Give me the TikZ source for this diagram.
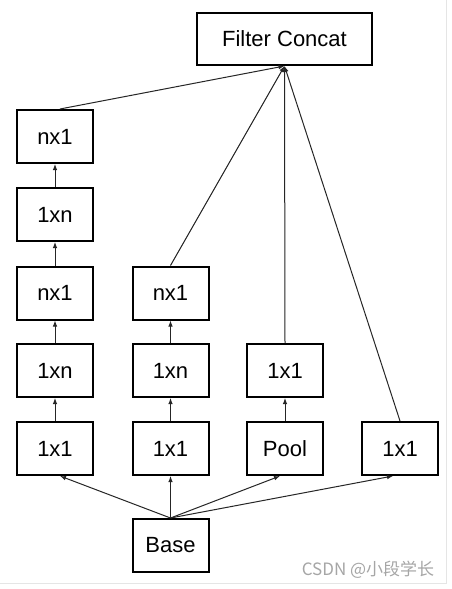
\documentclass[tikz,border=0pt]{standalone}
\usepackage{fontspec}
\setmainfont{Liberation Sans}
\newfontfamily\cjk{Noto Sans CJK SC}
\usetikzlibrary{arrows.meta,calc}
\begin{document}
\begin{tikzpicture}[x=1pt,y=-1pt,
  blk/.style={draw, line width=2pt, minimum width=76pt, minimum height=53pt, inner sep=0pt, font=\fontsize{22}{26}\selectfont},
  conn/.style={draw=black!85, line width=1pt, -{Latex[length=6pt,width=4.5pt]}},
  frame/.style={draw=black!10, line width=1pt}]
\useasboundingbox (0,0) rectangle (452,589);
\fill[white] (0,0) rectangle (452,589);
\draw[frame] (0,583) -- (446,583) -- (446,0);
% Filter Concat
\node[blk, minimum width=175pt, minimum height=52pt] (fc) at (284.5,39) {Filter Concat};
% column 1
\node[blk] (a1) at (55,448.5) {1x1};
\node[blk] (a2) at (55,370.5) {1xn};
\node[blk] (a3) at (55,293) {nx1};
\node[blk] (a4) at (55,214.5) {1xn};
\node[blk] (a5) at (55,136.5) {nx1};
% column 2
\node[blk] (b1) at (170.5,448.5) {1x1};
\node[blk] (b2) at (170.5,370.5) {1xn};
\node[blk] (b3) at (170.5,293) {nx1};
% column 3
\node[blk] (c1) at (285,448.5) {Pool};
\node[blk] (c2) at (285,370.5) {1x1};
% column 4
\node[blk] (d1) at (400,448.5) {1x1};
% base
\node[blk] (base) at (170.5,545.5) {Base};
% watermark
\node[text=black!35, font=\cjk\fontsize{17}{20}\selectfont, inner sep=0pt] (wm) at (368,570) {CSDN @小段学长};
% base to first row
\draw[conn] (base.north) -- ($(a1.south)+(5,0)$);
\draw[conn] (base.north) -- (b1.south);
\draw[conn] (base.north) -- ($(c1.south)+(-5,0)$);
\draw[conn] (base.north) -- ($(d1.south)+(-7,0)$);
% within columns
\draw[conn] (a1.north) -- (a2.south);
\draw[conn] (a2.north) -- (a3.south);
\draw[conn] (a3.north) -- (a4.south);
\draw[conn] (a4.north) -- (a5.south);
\draw[conn] (b1.north) -- (b2.south);
\draw[conn] (b2.north) -- (b3.south);
\draw[conn] (c1.north) -- (c2.south);
% to filter concat
\draw[conn] ($(a5.north)+(5,0)$) -- (fc.south);
\draw[conn] (b3.north) -- (fc.south);
\draw[conn] (c2.north) -- (fc.south);
\draw[conn] (d1.north) -- (fc.south);
\end{tikzpicture}
\end{document}
